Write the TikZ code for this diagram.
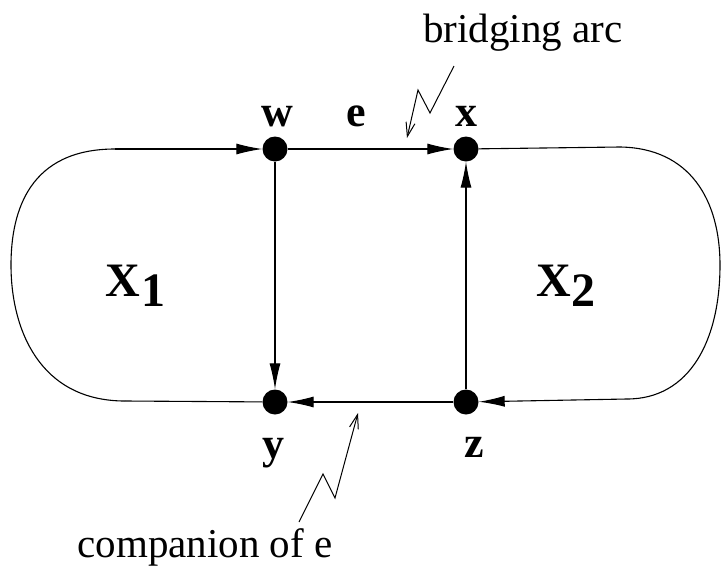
\documentclass[tikz,border=0pt]{standalone}
\usepackage{fontspec}
\setmainfont{Liberation Serif}
\usetikzlibrary{arrows.meta}
\begin{document}
\begin{tikzpicture}[x=1pt,y=-1pt,
 dot/.style={circle,fill=black,minimum size=25pt,inner sep=0pt},
 lbl/.style={font=\fontsize{44}{44}\selectfont\bfseries,anchor=base,inner sep=0pt},
 big/.style={font=\fontsize{48}{48}\selectfont\bfseries,anchor=base west,inner sep=0pt},
 note/.style={font=\fontsize{41}{41}\selectfont,anchor=base,inner sep=0pt},
 arc/.style={line width=1.1pt,-{Latex[length=26pt,width=11pt]}},
 plain/.style={line width=1.1pt},
 bolt/.style={line width=1pt,-{Straight Barb[length=14pt,width=9pt]}}]
\useasboundingbox (0,0) rectangle (721,571);
% vertices
\node[dot] (w) at (275,149) {};
\node[dot] (x) at (466,149) {};
\node[dot] (y) at (275,402) {};
\node[dot] (z) at (466,402) {};
% curve end points
\coordinate (l1) at (115,149);
\coordinate (l2) at (125,401);
\coordinate (r1) at (620,147);
\coordinate (r2) at (627,399);
% left region
\draw[arc] (l1) -- (w);
\draw[plain] (l1) .. controls (30,149) and (11,210) .. (11,265) .. controls (11,330) and (40,401) .. (l2);
\draw[plain] (l2) -- (y);
% right region
\draw[plain] (x) -- (r1);
\draw[plain] (r1) .. controls (690,148) and (720,200) .. (720,265) .. controls (720,340) and (690,399) .. (r2);
\draw[arc] (r2) -- (z);
% inner arcs
\draw[arc] (w) -- (x);
\draw[arc] (w) -- (y);
\draw[arc] (z) -- (x);
\draw[arc] (z) -- (y);
% labels
\node[lbl] (lw) at (277,126) {w};
\node[lbl] (le) at (356,126) {e};
\node[lbl] (lx) at (466,126) {x};
\node[lbl] (ly) at (273,458) {y};
\node[lbl] (lz) at (474,457) {z};
\node[big] (X1) at (105,296) {X};
\node[big] (s1) at (141,306) {1};
\node[big] (X2) at (536,296) {X};
\node[big] (s2) at (571,306) {2};
\node[note] (bridge) at (523,42) {bridging arc};
\node[note] (comp) at (205,557) {companion of e};
% zigzag pointers
\coordinate (b0) at (454,66);
\coordinate (b1) at (430,113);
\coordinate (b2) at (418,90);
\coordinate (b3) at (407,138);
\draw[bolt] (b0) -- (b1) -- (b2) -- (b3);
\coordinate (c0) at (299,522);
\coordinate (c1) at (323,474);
\coordinate (c2) at (335,498);
\coordinate (c3) at (358,413);
\draw[bolt] (c0) -- (c1) -- (c2) -- (c3);
\end{tikzpicture}
\end{document}
